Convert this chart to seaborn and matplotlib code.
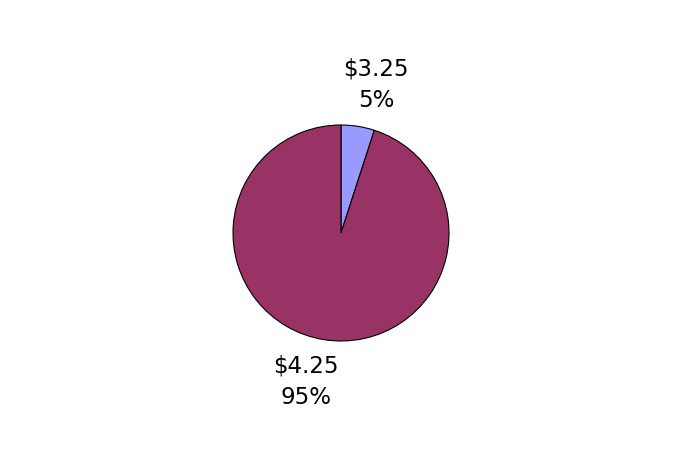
import matplotlib
matplotlib.use("Agg")
import matplotlib.pyplot as plt
import seaborn as sns

# data
prices = ["$3.25", "$4.25"]
shares = [5, 95]
colors = ["#9999FF", "#993366"]

sns.set_style("white")
plt.rcParams["font.family"] = ["DejaVu Sans"]

fig = plt.figure(figsize=(6.83, 4.67), dpi=100)
ax = fig.add_axes([0, 0, 1, 1])

labels = [f"{p}\n{s}%" for p, s in zip(prices, shares)]
wedges, texts = ax.pie(shares, labels=labels, colors=colors, startangle=90,
                       counterclock=False, center=(341, 234), radius=108,
                       frame=True,
                       wedgeprops=dict(edgecolor="black", linewidth=0.8),
                       textprops=dict(fontsize=16.5, color="black",
                                      linespacing=1.45))
# label placement as in the reference
label_pos = [(376, 382), (306, 85)]
for t, pos in zip(texts, label_pos):
    t.set_position(pos)
    t.set_ha("center")
    t.set_va("center")
ax.set_xlim(0, 683)
ax.set_ylim(0, 467)
ax.set_aspect("equal")
ax.axis("off")

fig.savefig("out.png", dpi=100)
